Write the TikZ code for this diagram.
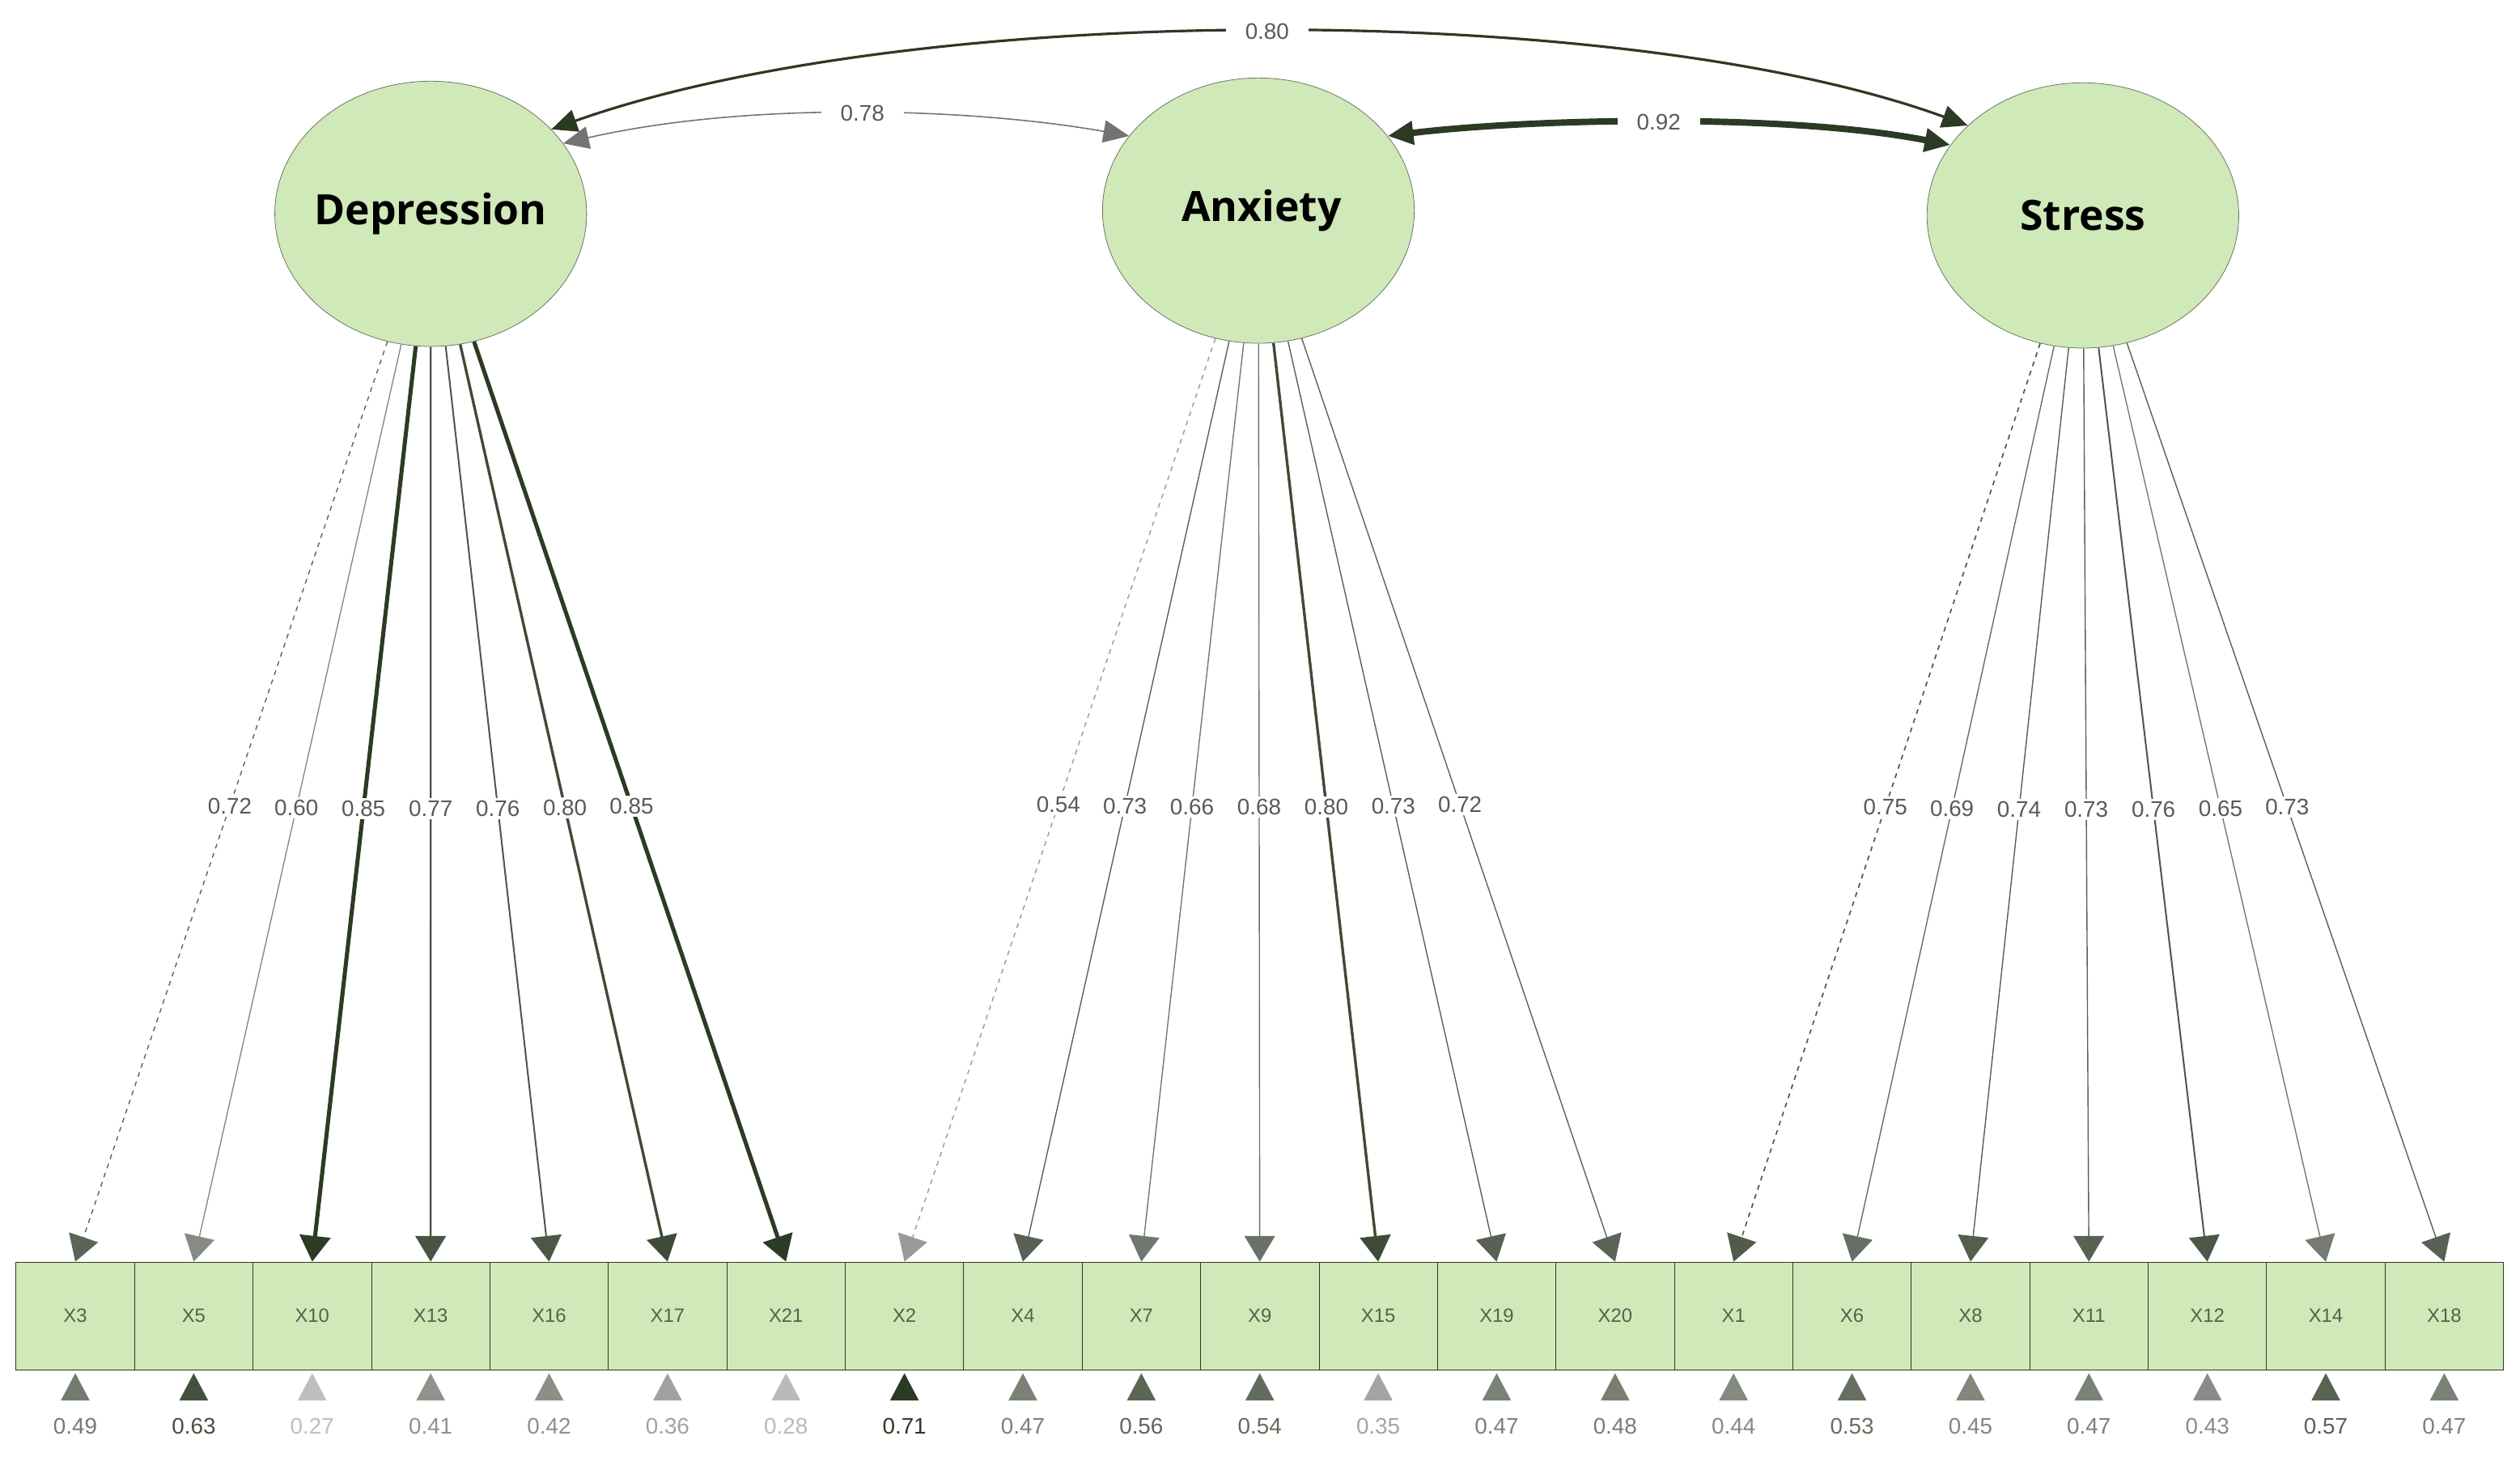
\documentclass[tikz,border=0pt]{standalone}
\usepackage{fontspec}
\setmainfont{Liberation Sans}
\newfontfamily\latfont{Open Sans}
\usetikzlibrary{shapes.geometric,arrows.meta}
\definecolor{boxg}{HTML}{CFE9B8}
\definecolor{dk}{HTML}{2B3A22}
\definecolor{lg}{HTML}{9A9A9A}
\definecolor{lt}{HTML}{C4C4C4}
\begin{document}
\begin{tikzpicture}[x=1pt,y=-1pt,
  lat/.style={ellipse,draw=dk!70,fill=boxg,minimum width=194pt,minimum height=165pt,inner sep=0pt},
  latl/.style={font=\latfont\bfseries\fontsize{26}{26}\selectfont},
  obs/.style={rectangle,draw=dk,fill=boxg,minimum width=73.7pt,minimum height=67pt,inner sep=0pt,font=\fontsize{12}{12}\selectfont\color{dk!80}},
  lab/.style={fill=white,inner sep=1.5pt,font=\fontsize{14}{14}\selectfont,text=black!65},
  clab/.style={fill=white,inner xsep=12pt,inner ysep=3pt,font=\fontsize{14}{14}\selectfont,text=black!65},
  tip/.style={-{Triangle[width=19pt,length=16pt]}},
  cov/.style={{Triangle[width=14pt,length=16pt]}-{Triangle[width=14pt,length=16pt]}}]
\useasboundingbox (0,0) rectangle (1568,914);
\node[lat] (dep) at (268,133) {};
\node[lat] (anx) at (783,131) {};
\node[lat] (st) at (1296,134) {};
\node[latl] (depl) at (268,133) {Depression};
\node[latl] (anxl) at (785,131) {Anxiety};
\node[latl] (stl) at (1296,134) {Stress};
% observed boxes
\foreach \n [count=\i from 0] in {X3,X5,X10,X13,X16,X17,X21,X2,X4,X7,X9,X15,X19,X20,X1,X6,X8,X11,X12,X14,X18}{
  \node[obs] (\n) at ({10+73.7*(\i+0.5)},818.5) {\n};
}
% loadings
\foreach \f/\n/\v/\d in {dep/X3/72/1,dep/X5/60/0,dep/X10/85/0,dep/X13/77/0,dep/X16/76/0,dep/X17/80/0,dep/X21/85/0,
  anx/X2/54/1,anx/X4/73/0,anx/X7/66/0,anx/X9/68/0,anx/X15/80/0,anx/X19/73/0,anx/X20/72/0,
  st/X1/75/1,st/X6/69/0,st/X8/74/0,st/X11/73/0,st/X12/76/0,st/X14/65/0,st/X18/73/0}{
  \pgfmathsetmacro\sh{min(100,max(0,(\v-55)*3.3))}
  \pgfmathsetmacro\lw{max(0.7,(\v-70)*0.17)}
  \ifnum\d=1 \def\dsh{dashed}\else\def\dsh{solid}\fi
  \draw[tip,draw=dk!\sh!lg,line width=\lw pt,\dsh] (\f) -- (\n.north)
    node[lab,pos=0.505,solid] {0.\v};
}
% residuals
\foreach \n/\r in {X3/49,X5/63,X10/27,X13/41,X16/42,X17/36,X21/28,X2/71,X4/47,X7/56,X9/54,X15/35,X19/47,X20/48,X1/44,X6/53,X8/45,X11/47,X12/43,X14/57,X18/47}{
  \pgfmathsetmacro\rs{min(100,max(0,(\r-25)*2.2))}
  \fill[dk!\rs!lt] ([yshift=-2pt]\n.south) -- ++(9,17) -- ++(-18,0) -- cycle;
  \node[font=\fontsize{14}{14}\selectfont,text=dk!\rs!lt] at ([yshift=-35pt]\n.south) {0.\r};
}
% covariances
\draw[cov,draw=dk,line width=1.6pt] (st.142) .. controls (1010,0) and (570,0) .. (dep.35)
  node[clab,pos=0.5] {0.80};
\draw[cov,draw=black!55,line width=0.8pt] (dep.28) .. controls (470,62) and (610,68) .. (anx.150)
  node[clab,pos=0.5] {0.78};
\draw[cov,draw=dk,line width=4pt] (anx.30) .. controls (950,74) and (1110,70) .. (st.152)
  node[clab,pos=0.5] {0.92};
\end{tikzpicture}
\end{document}
